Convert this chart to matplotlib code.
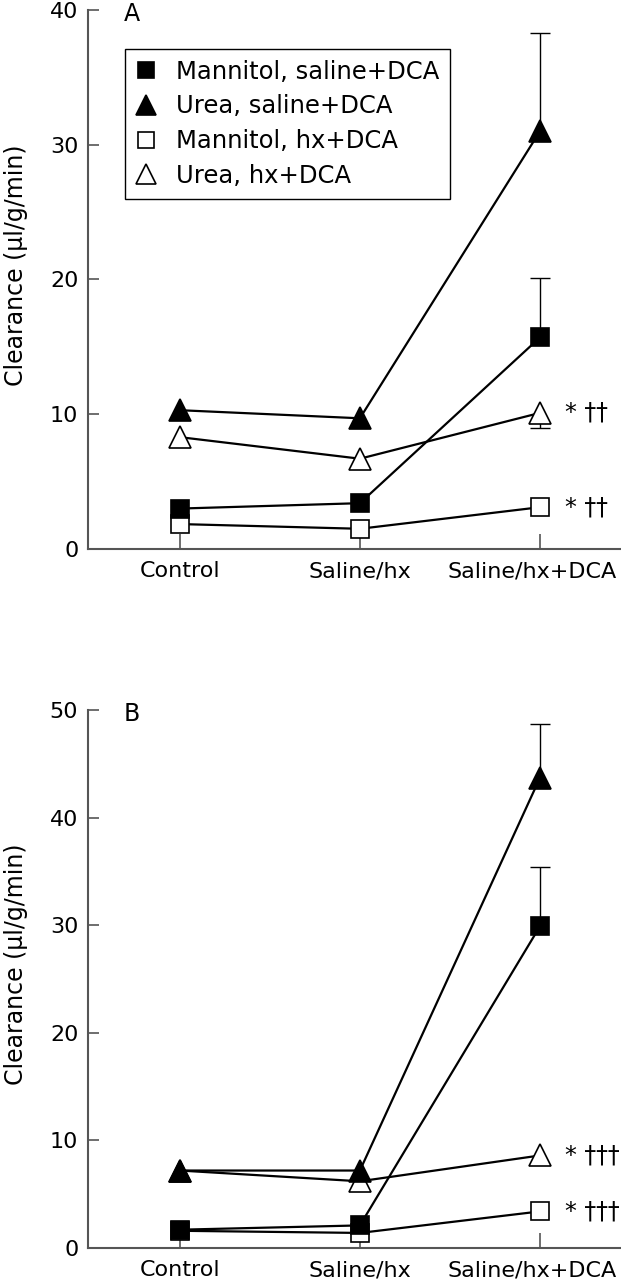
import matplotlib
matplotlib.use('Agg')
import matplotlib.pyplot as plt
import matplotlib.transforms as mtransforms
from matplotlib.lines import Line2D

plt.rcParams['font.family'] = ['DejaVu Sans']

# 데이터
cats = ['Control', 'Saline/hx', 'Saline/hx+DCA']
labels = ['Mannitol, saline+DCA', 'Urea, saline+DCA', 'Mannitol, hx+DCA', 'Urea, hx+DCA']

# panel A
a_mann_sal = [3.0, 3.4, 15.7]
a_urea_sal = [10.3, 9.7, 31.0]
a_mann_hx = [1.85, 1.5, 3.1]
a_urea_hx = [8.3, 6.7, 10.1]
a_err_up = [[0, 0, 4.4], [0, 0, 7.3], [0, 0, 0], [0, 0, 0]]
a_err_low = [[0, 0, 0], [0, 0, 0], [0, 0, 0], [0, 0, 1.1]]
a_marks = ['* ††', '* ††']

# panel B
b_mann_sal = [1.7, 2.1, 29.9]
b_urea_sal = [7.2, 7.2, 43.7]
b_mann_hx = [1.6, 1.4, 3.4]
b_urea_hx = [7.2, 6.2, 8.6]
b_err_up = [[0, 0, 5.5], [0, 0, 5.0], [0, 0, 0], [0, 0, 0]]
b_err_low = [[0, 0, 0], [0, 0, 0], [0, 0, 0], [0, 0, 0]]
b_marks = ['* †††', '* †††']

styles = [('s', 'black', 13.5), ('^', 'black', 16.5), ('s', 'white', 13.5), ('^', 'white', 16.5)]
spine_col = '#555555'


def draw_panel(ax, series, err_up, err_low, ymax, yticks, letter, marks):
    x = list(range(len(cats)))
    # 에러바 (0이 아닌 쪽만 캡 표시)
    for i, ys in enumerate(series):
        for j in x:
            lo, up = err_low[i][j], err_up[i][j]
            if lo == 0 and up == 0:
                continue
            _, caps, _ = ax.errorbar([j], [ys[j]], yerr=[[lo], [up]], fmt='none', ecolor='black',
                                     elinewidth=1, capsize=7, capthick=1, zorder=1)
            if lo == 0:
                caps[0].set_visible(False)
            if up == 0:
                caps[1].set_visible(False)
    for i, ys in enumerate(series):
        ax.plot(x, ys, color='black', lw=1.6, zorder=2)
    # 채워진 마커가 빈 마커 위로
    for i, ys in enumerate(series):
        m, fc, ms = styles[i]
        ax.plot(x, ys, ls='none', marker=m, ms=ms, mfc=fc, mec='black', mew=1.2, zorder=4 - (i >= 2))

    # 유의성 표시
    ax.text(2.14, series[3][2], marks[0], fontsize=17, va='center', ha='left')
    ax.text(2.14, series[2][2], marks[1], fontsize=17, va='center', ha='left')

    ax.text(-0.31, ymax * 0.993, letter, fontsize=17, va='center', ha='left')

    ax.set_xlim(-0.51, 2.45)
    ax.set_ylim(0, ymax)
    ax.set_xticks(x)
    ax.set_xticklabels(cats)
    ax.set_yticks(yticks)
    ax.spines['top'].set_visible(False)
    ax.spines['right'].set_visible(False)
    for s in ['left', 'bottom']:
        ax.spines[s].set_linewidth(1.5)
        ax.spines[s].set_color(spine_col)
    ax.tick_params(axis='y', direction='in', length=8, width=1.2, color=spine_col, labelsize=16, pad=7)
    ax.tick_params(axis='x', direction='in', length=11, width=1.2, color=spine_col, labelsize=16, pad=9)
    # 마지막 라벨이 오른쪽 끝에 닿도록 살짝 왼쪽으로
    lab = ax.get_xticklabels()[-1]
    lab.set_transform(lab.get_transform() + mtransforms.ScaledTranslation(-8 / 100, 0, fig.dpi_scale_trans))
    ax.set_ylabel('Clearance (µl/g/min)', fontsize=17)
    ax.yaxis.set_label_coords(-0.113, 0.527)


fig = plt.figure(figsize=(6.21, 12.8), dpi=100)
ax1 = fig.add_axes([0.1417, 0.5711, 0.8583, 0.4211])
ax2 = fig.add_axes([0.1417, 0.0250, 0.8583, 0.4203])

draw_panel(ax1, [a_mann_sal, a_urea_sal, a_mann_hx, a_urea_hx], a_err_up, a_err_low,
           40, [0, 10, 20, 30, 40], 'A', a_marks)
draw_panel(ax2, [b_mann_sal, b_urea_sal, b_mann_hx, b_urea_hx], b_err_up, b_err_low,
           50, [0, 10, 20, 30, 40, 50], 'B', b_marks)

handles = [Line2D([], [], ls='none', marker=m, ms=ms * 0.9, mfc=fc, mec='black', mew=1.2)
           for m, fc, ms in styles]
leg = ax1.legend(handles, labels, loc='upper left', bbox_to_anchor=(0.069, 0.928),
                 borderaxespad=0, fontsize=17.5, frameon=True, fancybox=False,
                 handlelength=0.85, handletextpad=0.8, labelspacing=0.44,
                 borderpad=0.45, framealpha=1)
leg.get_frame().set_edgecolor('black')
leg.get_frame().set_linewidth(1.0)

fig.savefig('out.png', dpi=100)
